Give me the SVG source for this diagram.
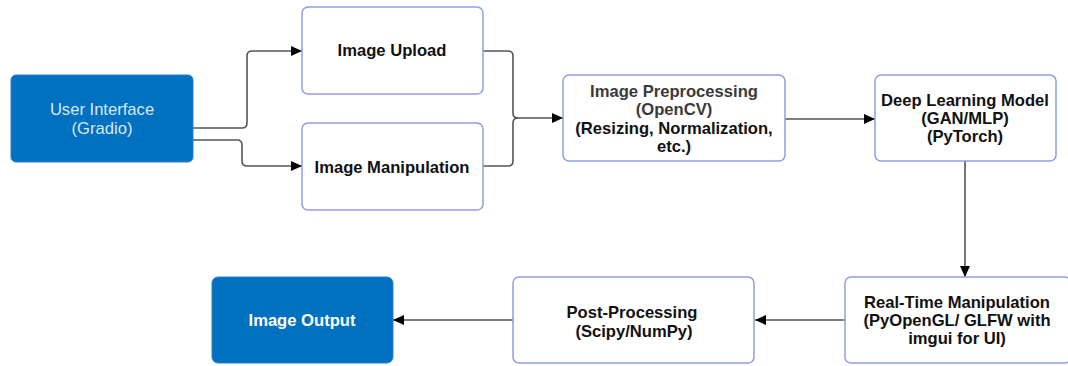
<svg xmlns="http://www.w3.org/2000/svg" width="1068" height="366" viewBox="0 0 1068 366">
<defs>
<style>
.box{fill:#ffffff;stroke:#8e9fe3;stroke-width:1.5}
.blue{fill:#0070c0;stroke:#2a7fd0;stroke-width:1}
.t{font-family:"Liberation Sans",Arial,sans-serif;font-size:16.6px;font-weight:bold;fill:#111111;text-anchor:middle}
.tg{fill:#3a3a3a}
.tw{fill:#ffffff}
.tl{font-weight:normal;fill:#dbe8f7}
.c{fill:none;stroke:#555555;stroke-width:1.6;stroke-linejoin:round}
</style>
<marker id="ah" markerWidth="12" markerHeight="10" refX="11" refY="5" orient="auto" markerUnits="userSpaceOnUse">
<path d="M0,0 L11,5 L0,10 Z" fill="#000000"/>
</marker>
</defs>
<rect width="1068" height="366" fill="#ffffff"/>
<g id="connectors">
<path class="c" d="M193,128 H242 Q247,128 247,123 V56 Q247,51 252,51 H302" marker-end="url(#ah)"/>
<path class="c" d="M193,140 H237 Q242,140 242,145 V161 Q242,166 247,166 H302" marker-end="url(#ah)"/>
<path class="c" d="M483,51 H508 Q513,51 513,56 V113 Q513,118 518,118"/>
<path class="c" d="M483,166 H508 Q513,166 513,161 V123 Q513,118 518,118 H563" marker-end="url(#ah)"/>
<path class="c" d="M785,119 H875" marker-end="url(#ah)"/>
<path class="c" d="M965,161 V277" marker-end="url(#ah)"/>
<path class="c" d="M845,320 H755" marker-end="url(#ah)"/>
<path class="c" d="M513,320 H393" marker-end="url(#ah)"/>
</g>
<g id="user-interface">
<rect class="blue" x="11" y="75" width="182" height="87" rx="5"/>
<text class="t tl" x="102" y="115">User Interface</text>
<text class="t tl" x="102" y="134">(Gradio)</text>
</g>
<g id="image-upload">
<rect class="box" x="302" y="7" width="181" height="87" rx="6"/>
<text class="t" x="392" y="56">Image Upload</text>
</g>
<g id="image-manipulation">
<rect class="box" x="302" y="123" width="181" height="87" rx="6"/>
<text class="t" x="392" y="173">Image Manipulation</text>
</g>
<g id="image-preprocessing">
<rect class="box" x="563" y="75" width="222" height="86" rx="6"/>
<text class="t tg" x="674" y="97">Image Preprocessing</text>
<text class="t tg" x="674" y="115">(OpenCV)</text>
<text class="t" x="674" y="134">(Resizing, Normalization,</text>
<text class="t" x="674" y="152">etc.)</text>
</g>
<g id="deep-learning-model">
<rect class="box" x="875" y="75" width="181" height="86" rx="6"/>
<text class="t" x="965" y="106">Deep Learning Model</text>
<text class="t" x="965" y="124">(GAN/MLP)</text>
<text class="t" x="965" y="142">(PyTorch)</text>
</g>
<g id="real-time-manipulation">
<rect class="box" x="845" y="277" width="226" height="86" rx="6"/>
<text class="t" x="957" y="308">Real-Time Manipulation</text>
<text class="t" x="957" y="326">(PyOpenGL/ GLFW with</text>
<text class="t" x="957" y="344">imgui for UI)</text>
</g>
<g id="post-processing">
<rect class="box" x="513" y="277" width="241" height="86" rx="6"/>
<text class="t" x="632" y="318">Post-Processing</text>
<text class="t" x="634" y="337">(Scipy/NumPy)</text>
</g>
<g id="image-output">
<rect class="blue" x="212" y="277" width="181" height="86" rx="6"/>
<text class="t tw" x="302" y="326">Image Output</text>
</g>
</svg>
